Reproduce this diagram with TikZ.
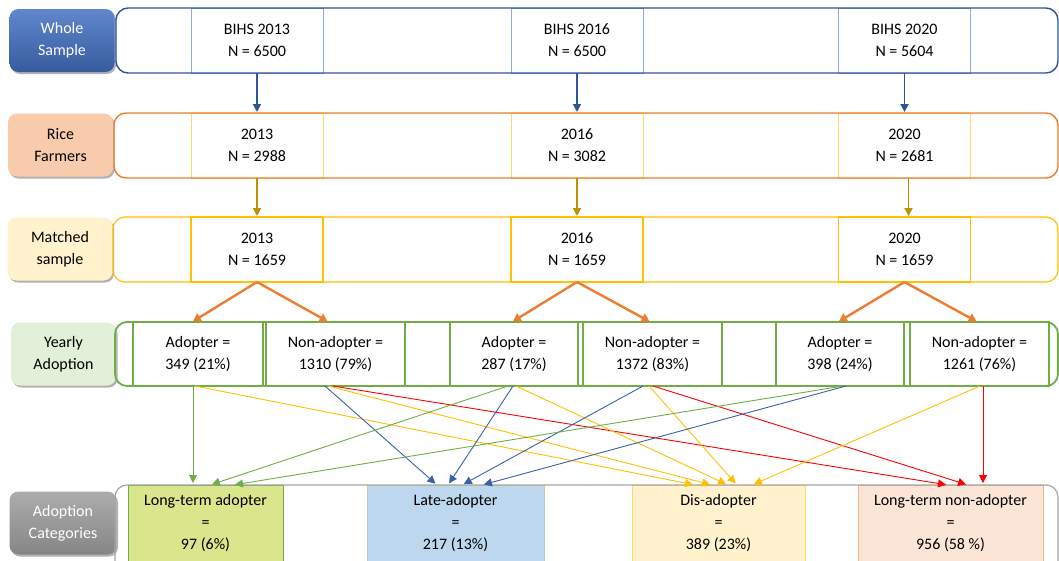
\documentclass[tikz,border=0pt]{standalone}
\usepackage{fontspec}
\setmainfont{Carlito}
\usetikzlibrary{arrows.meta, positioning, shadows}
\definecolor{wsblue}{HTML}{4472C4}
\definecolor{darkblue}{HTML}{2F5597}
\definecolor{paleblue}{HTML}{8FAADC}
\definecolor{flowblue}{HTML}{3A62AA}
\definecolor{orng}{HTML}{ED7D31}
\definecolor{gold}{HTML}{FFC000}
\definecolor{palegold}{HTML}{FFD966}
\definecolor{darkgold}{HTML}{BF9000}
\definecolor{grn}{HTML}{70AD47}
\definecolor{gry}{HTML}{A5A5A5}
\definecolor{redline}{HTML}{FF0000}
\newcommand{\flowline}[5]{\draw[flow,#1] ([xshift=#3pt]#2.south) -- ([xshift=#5pt]#4.north);}
\tikzset{outer sep=0pt,
    tagbox/.style={rounded corners=9pt, minimum width=105pt, minimum height=63pt, align=center, inner sep=0pt,
        drop shadow={shadow xshift=1.5pt, shadow yshift=-2pt, opacity=.3, fill=black}},
    rowbox/.style={draw, rounded corners=12pt, minimum height=65pt, inner sep=0pt},
    cell/.style={draw, line width=1pt, align=center, minimum width=132pt, minimum height=65pt, inner sep=0pt},
    yearcell/.style={draw=grn, line width=1.8pt, align=center, minimum height=64pt, inner sep=0pt},
    catcell/.style={draw, line width=1pt, align=center, minimum height=76pt, anchor=north, inner sep=0pt},
    step1/.style={-{Triangle[length=8pt,width=8pt]}, line width=1.8pt, darkblue, shorten >=1pt},
    step2/.style={-{Triangle[length=8pt,width=8pt]}, line width=1.8pt, darkgold, shorten >=1pt},
    step3/.style={-{Triangle[length=8pt,width=9pt]}, line width=2.4pt, orng, shorten >=1pt},
    flow/.style={-{Triangle[length=8pt,width=8pt]}, line width=0.9pt, shorten >=2pt}}
\begin{document}
\begin{tikzpicture}[x=1pt, y=-1pt, font=\fontsize{16}{22}\selectfont]
\useasboundingbox (0,0) rectangle (1059,560);
% row labels
\node[tagbox, top color=wsblue!85!white, bottom color=wsblue!80!black, text=white] (tag1) at (62,40.5) {Whole\\Sample};
\node[tagbox, fill={rgb,255:red,248;green,203;blue,173}] (tag2) at (60.5,145) {Rice\\Farmers};
\node[tagbox, fill={rgb,255:red,255;green,242;blue,204}] (tag3) at (60,249) {Matched\\sample};
\node[tagbox, fill={rgb,255:red,226;green,240;blue,217}] (tag4) at (63.5,354) {Yearly\\Adoption};
\node[tagbox, top color=gray!65, bottom color=gray!95, text=white, minimum width=107pt] (tag5) at (63,523) {Adoption\\Categories};
% survey rounds
\node[cell, draw=paleblue] (b13) at (257,40.5) {BIHS 2013\\N = 6500};
\node[cell, draw=paleblue] (b16) at (577,40.5) {BIHS 2016\\N = 6500};
\node[cell, draw=paleblue] (b20) at (904.5,40.5) {BIHS 2020\\N = 5604};
\node[cell, draw=palegold] (r13) [below=40pt of b13] {2013\\N = 2988};
\node[cell, draw=palegold] (r16) [below=40pt of b16] {2016\\N = 3082};
\node[cell, draw=palegold] (r20) [below=40pt of b20] {2020\\N = 2681};
\node[cell, draw=gold, line width=1.8pt] (m13) [below=39pt of r13] {2013\\N = 1659};
\node[cell, draw=gold, line width=1.8pt] (m16) [below=39pt of r16] {2016\\N = 1659};
\node[cell, draw=gold, line width=1.8pt] (m20) [below=39pt of r20] {2020\\N = 1659};
% yearly adoption
\node[yearcell, minimum width=130pt] (a13) at (198,354) {Adopter =\\349 (21\%)};
\node[yearcell, minimum width=139pt] (n13) at (335.5,354) {Non-adopter =\\1310 (79\%)};
\node[yearcell, minimum width=128pt] (a16) at (514,354) {Adopter =\\287 (17\%)};
\node[yearcell, minimum width=139pt] (n16) at (652.5,354) {Non-adopter =\\1372 (83\%)};
\node[yearcell, minimum width=128pt] (a20) at (840,354) {Adopter =\\398 (24\%)};
\node[yearcell, minimum width=139pt] (n20) at (979.5,354) {Non-adopter =\\1261 (76\%)};
% adoption categories
\node[catcell, minimum width=155pt, draw=grn, fill={rgb,255:red,218;green,230;blue,140}] (lta) at (205.5,485) {Long-term adopter\\=\\97 (6\%)};
\node[catcell, minimum width=177pt, draw=grn!50, fill={rgb,255:red,189;green,215;blue,238}] (lat) at (455.5,485) {Late-adopter\\=\\217 (13\%)};
\node[catcell, minimum width=173pt, draw=palegold, fill={rgb,255:red,255;green,242;blue,204}] (dis) at (718.5,485) {Dis-adopter\\=\\389 (23\%)};
\node[catcell, minimum width=185pt, draw=orng!60, fill={rgb,255:red,251;green,229;blue,214}] (ltn) at (950.5,485) {Long-term non-adopter\\=\\956 (58 \%)};
% row frames
\node[rowbox, draw=darkblue, line width=1.4pt, minimum width=942pt] (row1) at (587,40.5) {};
\node[rowbox, draw=orng, line width=1.4pt, minimum width=944pt] (row2) at (586,145.5) {};
\node[rowbox, draw=gold, line width=1.2pt, minimum width=945pt] (row3) at (585.5,249.5) {};
\node[rowbox, draw=grn, line width=1.8pt, minimum width=943pt, minimum height=64pt] (row4) at (586.5,354) {};
\node[rowbox, draw=gry, line width=1.2pt, minimum width=943pt, minimum height=135pt] (row5) at (586.5,552.5) {};
% steps between rows
\path[step1]
    (b13) edge (r13)
    (b16) edge (r16)
    (b20) edge (r20);
\path[step2]
    (r13) edge (m13)
    (r16) edge (m16)
    ([xshift=4pt]r20.south) edge ([xshift=4pt]m20.north);
\path[step3]
    (m13.south) edge ([xshift=-6pt]a13.north)
    (m13.south) edge ([xshift=-7pt]n13.north)
    (m16.south) edge ([xshift=-2pt]a16.north)
    (m16.south) edge ([xshift=-2pt]n16.north)
    (m20.south) edge ([xshift=-2pt]a20.north)
    (m20.south) edge ([xshift=-2pt]n20.north);
% yearly status to categories
\flowline{grn}{a13}{-5}{lta}{-12.5}
\flowline{gold}{a13}{-3}{dis}{-23.5}
\flowline{flowblue}{n13}{-10.5}{lat}{-18.5}
\flowline{gold}{n13}{-7.5}{dis}{-6.5}
\flowline{redline}{n13}{-2.5}{ltn}{-2.5}
\flowline{grn}{a16}{-6}{lta}{4.5}
\flowline{flowblue}{a16}{-1}{lat}{-7.5}
\flowline{gold}{a16}{2}{dis}{9.5}
\flowline{flowblue}{n16}{-9.5}{lat}{6.5}
\flowline{gold}{n16}{-3.5}{dis}{18.5}
\flowline{redline}{n16}{0.5}{ltn}{17.5}
\flowline{grn}{a20}{3}{lta}{27.5}
\flowline{flowblue}{a20}{6}{lat}{26.5}
\flowline{gold}{n20}{0.5}{dis}{33.5}
\flowline{redline}{n20}{3.5}{ltn}{32.5}
\end{tikzpicture}
\end{document}
